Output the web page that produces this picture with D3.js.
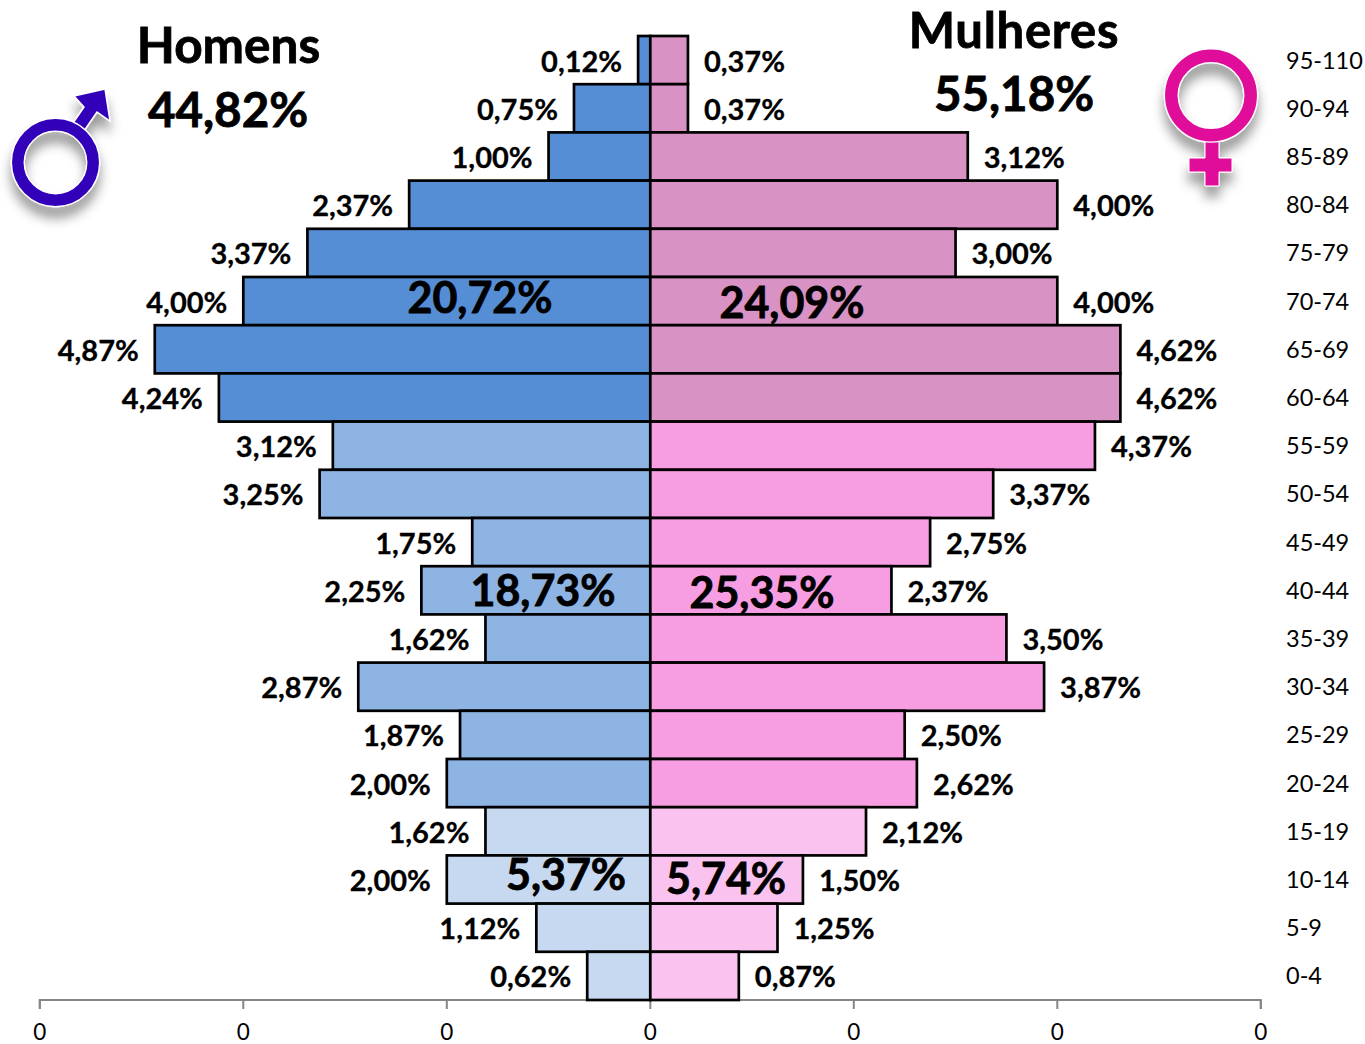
<!DOCTYPE html>
<html>
<head>
<meta charset="utf-8">
<script src="https://cdn.jsdelivr.net/npm/d3@7"></script>
<style>
html, body { margin: 0; padding: 0; background: #fff; overflow: hidden; }
svg { display: block; }
text { font-family: Lato, "Open Sans", sans-serif; fill: #000; }
.val { font-weight: 700; font-size: 29px; stroke: #000; stroke-width: 0.3px; }
.group { font-weight: 700; font-size: 43px; stroke: #000; stroke-width: 0.8px; }
.title { font-weight: 700; font-size: 49px; stroke: #000; stroke-width: 0.8px; }
.age { font-size: 23.5px; }
.axis text { font-size: 22.5px; font-family: Lato, sans-serif; }
.axis path, .axis line { stroke: #868686; stroke-width: 2px; }
</style>
</head>
<body>
<svg id="chart" width="1365" height="1044"></svg>
<script>
var ages = ['95-110', '90-94', '85-89', '80-84', '75-79', '70-74', '65-69', '60-64', '55-59', '50-54',
    '45-49', '40-44', '35-39', '30-34', '25-29', '20-24', '15-19', '10-14', '5-9', '0-4'];
var homens = [0.12, 0.75, 1.00, 2.37, 3.37, 4.00, 4.87, 4.24, 3.12, 3.25,
    1.75, 2.25, 1.62, 2.87, 1.87, 2.00, 1.62, 2.00, 1.12, 0.62];
var mulheres = [0.37, 0.37, 3.12, 4.00, 3.00, 4.00, 4.62, 4.62, 4.37, 3.37,
    2.75, 2.37, 3.50, 3.87, 2.50, 2.62, 2.12, 1.50, 1.25, 0.87];
// 0 = 60 and over, 1 = 20-59, 2 = under 20
var faixa = [0, 0, 0, 0, 0, 0, 0, 0, 1, 1, 1, 1, 1, 1, 1, 1, 2, 2, 2, 2];
var coresHomens = ['#558ed5', '#8eb4e3', '#c6d9f1'];
var coresMulheres = ['#d892c4', '#f79ee3', '#fac2ee'];
var totaisHomens = ['20,72%', '18,73%', '5,37%'];
var totaisMulheres = ['24,09%', '25,35%', '5,74%'];
var eixoTicks = [-6, -4, -2, 0, 2, 4, 6];

var svg = d3.select('#chart');

var x = d3.scaleLinear().domain([-6, 6]).range([39.8, 1260.8]);
var y = d3.scaleBand().domain(ages).range([36, 1000]);

function fmt(v) {
    return v.toFixed(2).replace('.', ',') + '%';
}

var defs = svg.append('defs');
var shadow = defs.append('filter').attr('id', 'sombra')
    .attr('x', '-30%').attr('y', '-30%').attr('width', '160%').attr('height', '170%');
shadow.append('feDropShadow').attr('dx', 0).attr('dy', 11).attr('stdDeviation', 6)
    .attr('flood-color', '#000').attr('flood-opacity', 0.4);

// axis goes under the bars
var axis = d3.axisBottom(x).tickValues(eixoTicks).tickFormat(function() { return '0'; })
    .tickSize(9).tickSizeOuter(9).tickPadding(15).offset(0);
svg.append('g').attr('class', 'axis')
    .attr('transform', 'translate(0,1000)')
    .call(axis);

function side(values, cores, sign) {
    var g = svg.append('g');
    g.selectAll('rect')
        .data(values)
        .enter().append('rect')
        .attr('x', function(d) { return sign < 0 ? x(-d) : x(0); })
        .attr('y', function(d, i) { return y(ages[i]); })
        .attr('width', function(d) { return Math.abs(x(d) - x(0)); })
        .attr('height', y.bandwidth())
        .attr('fill', function(d, i) { return cores[faixa[i]]; })
        .attr('stroke', '#000')
        .attr('stroke-width', 2.7);
    g.selectAll('text')
        .data(values)
        .enter().append('text')
        .attr('class', 'val')
        .attr('x', function(d) { return x(sign * d) + sign * 16; })
        .attr('y', function(d, i) { return y(ages[i]) + y.bandwidth() / 2 + 11.5; })
        .attr('text-anchor', sign < 0 ? 'end' : 'start')
        .text(fmt);
}
side(homens, coresHomens, -1);
side(mulheres, coresMulheres, 1);

svg.append('g').selectAll('text')
    .data(ages)
    .enter().append('text')
    .attr('class', 'age')
    .attr('x', 1286)
    .attr('y', function(d) { return y(d) + y.bandwidth() / 2 + 8.5; })
    .text(function(d) { return d; });

// group totals, placed by hand like in the original
var posHomens = [[480, 313], [543, 606], [566, 890]];
var posMulheres = [[792, 318], [762, 608], [726, 894]];
svg.append('g').selectAll('text').data(totaisHomens).enter().append('text')
    .attr('class', 'group').attr('text-anchor', 'middle')
    .attr('x', function(d, i) { return posHomens[i][0]; })
    .attr('y', function(d, i) { return posHomens[i][1]; })
    .text(function(d) { return d; });
svg.append('g').selectAll('text').data(totaisMulheres).enter().append('text')
    .attr('class', 'group').attr('text-anchor', 'middle')
    .attr('x', function(d, i) { return posMulheres[i][0]; })
    .attr('y', function(d, i) { return posMulheres[i][1]; })
    .text(function(d) { return d; });

function title(txt, px, py, size, spacing) {
    svg.append('text').attr('class', 'title').attr('text-anchor', 'middle')
        .attr('x', px).attr('y', py).style('font-size', size + 'px')
        .style('letter-spacing', spacing + 'px').text(txt);
}
title('Homens', 228.5, 63, 49.5, 0);
title('44,82%', 228, 127, 47.5, 0);
title('Mulheres', 1014, 47.5, 49, 0.7);
title('55,18%', 1014, 111, 47.5, 0);

// male symbol
var male = svg.append('g').attr('filter', 'url(#sombra)');
male.append('path')
    .attr('d', 'M73 123 L84 107 L74 96 L105 89 L110 121 L97 112 L84 131 Z')
    .attr('fill', '#3300b8').attr('stroke', '#fff').attr('stroke-width', 1.5);
male.append('circle').attr('cx', 55.5).attr('cy', 162.5).attr('r', 37.7)
    .attr('fill', 'none').attr('stroke', '#fff').attr('stroke-width', 14);
male.append('circle').attr('cx', 55.5).attr('cy', 162.5).attr('r', 37.7)
    .attr('fill', 'none').attr('stroke', '#3300b8').attr('stroke-width', 11.5);

// female symbol
var female = svg.append('g').attr('filter', 'url(#sombra)');
female.append('path')
    .attr('d', 'M1205 135 H1219 V158 H1232 V172 H1219 V186 H1205 V172 H1189 V158 H1205 Z')
    .attr('fill', '#e0109a').attr('stroke', '#fff').attr('stroke-width', 1);
female.append('circle').attr('cx', 1211).attr('cy', 95.5).attr('r', 39.7)
    .attr('fill', 'none').attr('stroke', '#fff').attr('stroke-width', 15);
female.append('circle').attr('cx', 1211).attr('cy', 95.5).attr('r', 39.7)
    .attr('fill', 'none').attr('stroke', '#e0109a').attr('stroke-width', 12.5);
</script>
</body>
</html>
